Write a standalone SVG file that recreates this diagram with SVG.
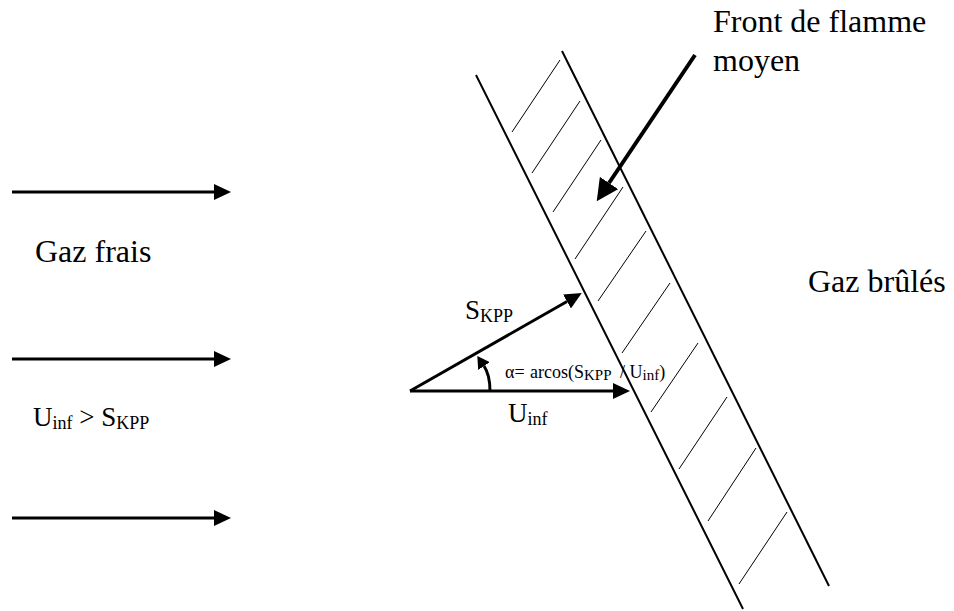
<svg xmlns="http://www.w3.org/2000/svg" width="954" height="611" viewBox="0 0 954 611">
<style>
  text { font-family: "Liberation Serif", "Times New Roman", serif; fill: #000; }
  .big { font-size: 32px; }
  .lbl { font-size: 27px; }
  .sm { font-size: 18px; }
  .edge { stroke: #000; fill: none; }
  .vec { stroke-width: 3; }
  .band { stroke: #000; stroke-width: 2; fill: none; }
  .hatch { stroke: #000; stroke-width: 1; fill: none; }
</style>
<defs>
  <marker id="head" markerUnits="userSpaceOnUse" markerWidth="18" markerHeight="16" refX="0" refY="8" orient="auto">
    <path d="M0,0 L17,8 L0,16 z" fill="#000"/>
  </marker>
  <marker id="headBig" markerUnits="userSpaceOnUse" markerWidth="23" markerHeight="22" refX="0" refY="11" orient="auto">
    <path d="M0,0 L22,11 L0,22 z" fill="#000"/>
  </marker>
  <marker id="headSmall" markerUnits="userSpaceOnUse" markerWidth="13" markerHeight="14" refX="0" refY="7" orient="auto">
    <path d="M0,0 L12,7 L0,14 z" fill="#000"/>
  </marker>
</defs>

<g id="flame-band">
  <line class="band" x1="476" y1="75" x2="743" y2="609"/>
  <line class="band" x1="562" y1="51" x2="829" y2="586"/>
  <g id="hatching">
    <line class="hatch" x1="560" y1="60" x2="512" y2="132"/>
    <line class="hatch" x1="580" y1="101" x2="532" y2="173"/>
    <line class="hatch" x1="601" y1="140" x2="553" y2="212"/>
    <line class="hatch" x1="623" y1="187" x2="575" y2="259"/>
    <line class="hatch" x1="646" y1="231" x2="598" y2="301"/>
    <line class="hatch" x1="670" y1="283" x2="622" y2="353"/>
    <line class="hatch" x1="698" y1="343" x2="651" y2="412"/>
    <line class="hatch" x1="727" y1="397" x2="679" y2="469"/>
    <line class="hatch" x1="756" y1="448" x2="708" y2="521"/>
    <line class="hatch" x1="787" y1="512" x2="739" y2="584"/>
  </g>
</g>

<g id="connectors">
  <line class="edge vec" x1="12" y1="192" x2="214" y2="192" marker-end="url(#head)"/>
  <line class="edge vec" x1="12" y1="359" x2="214" y2="359" marker-end="url(#head)"/>
  <line class="edge vec" x1="12" y1="518" x2="214" y2="518" marker-end="url(#head)"/>
  <line id="u-inf-vector" class="edge vec" x1="410" y1="391" x2="613" y2="391" marker-end="url(#head)"/>
  <line id="s-kpp-vector" class="edge vec" x1="410" y1="391" x2="567" y2="301.5" marker-end="url(#head)"/>
  <path id="alpha-arc" class="edge vec" d="M490,391 C490,380 488,372 484,366" marker-end="url(#headSmall)"/>
  <line id="front-pointer" class="edge" stroke-width="4" x1="695" y1="55" x2="609" y2="183" marker-end="url(#headBig)"/>
</g>

<g id="label-front">
  <text class="big" x="713" y="32">Front de flamme</text>
  <text class="big" x="713" y="71">moyen</text>
</g>
<g id="label-gaz-frais">
  <text class="big" x="35" y="262">Gaz frais</text>
</g>
<g id="label-gaz-brules">
  <text class="big" x="808" y="292">Gaz brûlés</text>
</g>
<g id="label-condition">
  <text class="lbl" x="33" y="426">U<tspan font-size="18" dy="3">inf</tspan><tspan dy="-3"> &gt; S</tspan><tspan font-size="18" dy="3">KPP</tspan></text>
</g>
<g id="label-skpp">
  <text class="lbl" x="465" y="319">S<tspan font-size="18" dy="3">KPP</tspan></text>
</g>
<g id="label-uinf">
  <text class="lbl" x="508" y="422">U<tspan font-size="18" dy="3">inf</tspan></text>
</g>
<g id="label-alpha">
  <text class="sm" x="505" y="378">α=<tspan x="530">arcos(S</tspan><tspan font-size="15" dy="2">KPP</tspan><tspan x="620" dy="-2">/ U</tspan><tspan font-size="15" dy="2">inf</tspan><tspan dy="-2">)</tspan></text>
</g>
</svg>
